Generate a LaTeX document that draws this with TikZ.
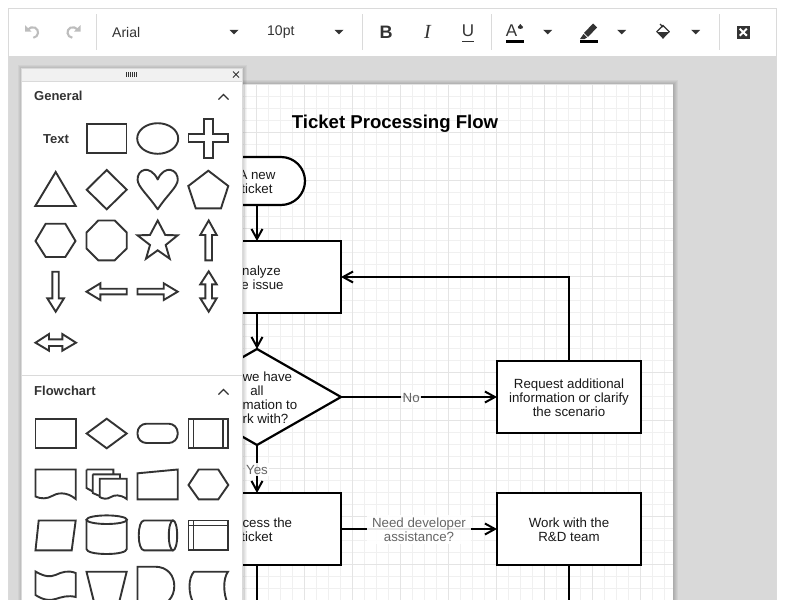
\documentclass[tikz,border=0pt]{standalone}
\usepackage{fontspec}
\setmainfont{Liberation Sans}
\usetikzlibrary{arrows.meta,shapes.geometric}
\definecolor{canvasgray}{HTML}{D9D9D9}
\definecolor{barline}{HTML}{DADADA}
\definecolor{minorgrid}{HTML}{F0F0F0}
\definecolor{majorgrid}{HTML}{E4E4E4}
\definecolor{shapegray}{HTML}{333333}
\definecolor{labelgray}{HTML}{666666}
\definecolor{dimicon}{HTML}{BDBDBD}
\definecolor{headgray}{HTML}{F1F1F1}
\tikzset{
	flowtext/.style={font=\fontsize{13.3}{14}\selectfont,align=center,text=black!90,inner sep=0pt,yshift=-1pt},
	flowbox/.style={draw,line width=2.2pt,fill=white,outer sep=0pt,inner sep=0pt},
	terminalbox/.style={flowbox,rounded corners=24pt,minimum width=96pt,minimum height=48pt},
	processbox/.style={flowbox,minimum width=168pt,minimum height=72pt},
	sidebox/.style={flowbox,minimum width=144pt,minimum height=72pt},
	decisionbox/.style={flowbox,diamond,aspect=1.75,minimum width=168pt,minimum height=96pt},
	flowline/.style={line width=2.2pt,-{Straight Barb[length=10pt,width=11pt,line width=2pt]}},
	plainline/.style={line width=2.2pt},
	edgelabel/.style={font=\fontsize{13.3}{14}\selectfont,align=center,text=labelgray,fill=white,fill opacity=.9,text opacity=1,inner sep=1.5pt,yshift=-.6pt},
	palette/.style={draw=shapegray,line width=1.9pt,line join=miter},
	toolfont/.style={font=\fontsize{14}{14}\selectfont,text=shapegray,inner sep=0pt},
	sidehead/.style={font=\fontsize{13}{14}\selectfont\bfseries,text=shapegray,inner sep=0pt,anchor=west},
	dropmark/.style={fill=shapegray,draw=none},
	chevron/.style={draw=shapegray,line width=1.3pt},
}
\newcommand{\dropat}[2]{\fill[dropmark] (#1-4.5,#2-2.2) -- (#1+4.5,#2-2.2) -- (#1,#2+2.3) -- cycle;}
\begin{document}
\begin{tikzpicture}[x=1pt,y=-1pt]
	\clip (0,0) rectangle (785,600);
	\fill[white] (0,0) rectangle (785,600);
	%canvas and toolbar
	\fill[canvasgray] (9,56) rectangle (776.5,600);
	\draw[barline,line width=1pt] (8.5,8.5) rectangle (776.5,610);
	\draw[barline,line width=.8pt] (96.5,14) -- (96.5,50);
	\draw[barline,line width=.8pt] (362.5,14) -- (362.5,50);
	\draw[barline,line width=.8pt] (491.5,14) -- (491.5,50);
	\draw[barline,line width=.8pt] (719.5,14) -- (719.5,50);

	%page shadow
	\foreach \s in {1,2,...,5}{
		\fill[black,opacity=.045] (112.5-\s,84.5-\s) rectangle (672.5+\s,620);
	}
	\fill[white] (112.5,84.5) rectangle (672.5,620);
	\foreach \x in {0,1,...,46}{
		\draw[minorgrid,line width=.8pt] (112.5+12*\x,84.5) -- (112.5+12*\x,620);
	}
	\foreach \y in {0,1,...,44}{
		\draw[minorgrid,line width=.8pt] (112.5,84.5+12*\y) -- (672.5,84.5+12*\y);
	}
	\foreach \x in {0,1,...,11}{
		\draw[majorgrid,line width=.8pt] (112.5+48*\x,84.5) -- (112.5+48*\x,620);
	}
	\foreach \y in {0,1,...,11}{
		\draw[majorgrid,line width=.8pt] (112.5,84.5+48*\y) -- (672.5,84.5+48*\y);
	}

	%flow
	\node[font=\fontsize{18.6}{22}\selectfont\bfseries,inner sep=0pt] (title) at (395,123.5) {Ticket Processing Flow};
	\node[terminalbox,label={[flowtext]center:{A new\\ticket}}] (newticket) at (257,181) {};
	\node[processbox,label={[flowtext]center:{Analyze\\the issue}}] (analyze) at (257,277) {};
	\node[decisionbox,label={[flowtext]center:{Do we have\\all\\information to\\work with?}}] (haveinfo) at (257,397) {};
	\node[processbox,label={[flowtext]center:{Process the\\ticket}}] (process) at (257,529) {};
	\node[sidebox,label={[flowtext]center:{Request additional\\information or clarify\\the scenario}}] (request) at (569,397) {};
	\node[sidebox,label={[flowtext]center:{Work with the\\R\&D team}}] (rnd) at (569,529) {};
	\coordinate (processout) at (257,612);
	\coordinate (rndout) at (569,612);

	\draw[flowline] (newticket) -- (analyze);
	\draw[flowline] (analyze) -- (haveinfo);
	\draw[flowline] (haveinfo.east) -- node[edgelabel,pos=.45] (nolabel) {No} (request.west);
	\draw[flowline] (haveinfo.south) -- node[edgelabel] (yeslabel) {Yes} (process.north);
	\draw[flowline] (process.east) -- node[edgelabel,inner xsep=5pt,inner ysep=3pt] (devlabel) {Need developer\\assistance?} (rnd.west);
	\draw[flowline] (request.north) |- (analyze.east);
	\draw[plainline] (process.south) -- (processout);
	\draw[plainline] (rnd.south) -- (rndout);

	%shape panel
	\foreach \s in {1,2,...,4}{
		\fill[black,opacity=.04] (21.5-\s,68.5-\s) rectangle (242.5+\s,620);
	}
	\fill[white] (21.5,68.5) rectangle (242.5,620);
	\fill[headgray] (21.5,68.5) rectangle (242.5,81);
	\draw[barline,line width=.9pt] (21.5,68.5) rectangle (242.5,620);
	\draw[barline,line width=.9pt] (21.5,81.5) -- (242.5,81.5);
	\draw[barline,line width=.9pt] (21.5,375.5) -- (242.5,375.5);
	\foreach \x in {126.5,128.5,...,136.5}{
		\draw[shapegray,line width=.7pt] (\x,72) -- (\x,77);
	}
	\draw[shapegray,line width=.9pt] (233,71.5) -- (239,77.5) (239,71.5) -- (233,77.5);
	\node[sidehead] (generalhead) at (34,95.5) {General};
	\draw[chevron] (218.5,99.5) -- (223.5,94.5) -- (228.5,99.5);
	\node[sidehead] (flowhead) at (34,390.5) {Flowchart};
	\draw[chevron] (218.5,394.5) -- (223.5,389.5) -- (228.5,394.5);

	%general shapes
	\node[font=\fontsize{13}{14}\selectfont\bfseries,text=shapegray,inner sep=0pt] (textitem) at (56,139.5) {Text};
	\draw[palette] (87,124) rectangle (126.5,153);
	\draw[palette] (157.7,138.5) ellipse [x radius=20.5,y radius=15.3];
	\draw[palette] (204.3,118.7) -- (212.7,118.7) -- (212.7,134.3) -- (228.3,134.3) -- (228.3,142.3) -- (212.7,142.3) -- (212.7,158.3) -- (204.3,158.3) -- (204.3,142.3) -- (188.5,142.3) -- (188.5,134.3) -- (204.3,134.3) -- cycle;
	\draw[palette] (55.7,172) -- (75.7,206) -- (35.3,206) -- cycle;
	\draw[palette] (106.7,170) -- (126.7,189.7) -- (106.7,209.3) -- (86.7,189.7) -- cycle;
	\draw[palette,line join=round] (157.7,179.5) .. controls (154,171.5) and (148,169.3) .. (145,169.8) .. controls (140,170.5) and (137.3,175) .. (137.6,180) .. controls (138,187) and (148,195) .. (157.7,209.3) .. controls (167,195) and (177.4,187) .. (177.8,180) .. controls (178,175) and (175,170.5) .. (170,169.8) .. controls (167,169.3) and (161,171.5) .. (157.7,179.5) -- cycle;
	\draw[palette] (208.3,170.7) -- (228.3,186) -- (221,208.3) -- (195.7,208.3) -- (188.3,186) -- cycle;
	\draw[palette] (35.5,241) -- (45.7,223.7) -- (65.3,223.7) -- (75.5,241) -- (65.3,257) -- (45.7,257) -- cycle;
	\draw[palette] (98.3,220.5) -- (114.7,220.5) -- (126.7,232.5) -- (126.7,248.5) -- (114.7,260.3) -- (98.3,260.3) -- (86.5,248.5) -- (86.5,232.5) -- cycle;
	\draw[palette] (157.7,220.5) -- (165.3,235) -- (177.7,235.3) -- (165.7,245) -- (169.7,258.7) -- (157.7,250.3) -- (146,258.7) -- (150,245) -- (137.5,235.3) -- (150,235) -- cycle;
	\draw[palette] (208.7,220.5) -- (216.7,235) -- (212,235) -- (212,260.3) -- (205.3,260.3) -- (205.3,235) -- (200.3,235) -- cycle;
	\draw[palette] (52.3,271.7) -- (58.7,271.7) -- (58.7,298.3) -- (64,298.3) -- (55.7,311.7) -- (47.3,298.3) -- (52.3,298.3) -- cycle;
	\draw[palette] (86.5,291.7) -- (100.3,283.3) -- (100.3,288.7) -- (126.7,288.7) -- (126.7,294.3) -- (100.3,294.3) -- (100.3,300) -- cycle;
	\draw[palette] (177.7,291.7) -- (163.7,283.3) -- (163.7,288.7) -- (137.5,288.7) -- (137.5,294.3) -- (163.7,294.3) -- (163.7,300) -- cycle;
	\draw[palette] (208.7,271.3) -- (216.7,284.3) -- (212,284.3) -- (212,298.3) -- (216.7,298.3) -- (208.7,311.7) -- (200.3,298.3) -- (205.3,298.3) -- (205.3,284.3) -- (200.3,284.3) -- cycle;
	\draw[palette] (35.5,342.7) -- (49,334) -- (49,339.3) -- (62.3,339.3) -- (62.3,334) -- (76,342.7) -- (62.3,350.7) -- (62.3,346) -- (49,346) -- (49,350.7) -- cycle;

	%flowchart shapes
	\draw[palette] (35.5,418.7) rectangle (75.7,448.3);
	\draw[palette] (106.7,418.7) -- (126.7,433.5) -- (106.7,448.3) -- (86.7,433.5) -- cycle;
	\draw[palette,rounded corners=9pt] (137.5,423.7) rectangle (177.7,443);
	\draw[palette] (188.5,418.7) rectangle (228.3,448.3) (193.5,418.7) -- (193.5,448.3) (223.3,418.7) -- (223.3,448.3);
	\draw[palette] (35.5,469.5) -- (75.7,469.5) -- (75.7,499) .. controls (66,491) and (57,493) .. (52,496) .. controls (47,499) and (41,499) .. (35.5,496.5) -- cycle;
	\draw[palette] (86.5,469.5) -- (113.3,469.5) -- (113.3,474.3) (86.5,469.5) -- (86.5,488) -- (92.7,491.5) (92.7,474.3) -- (120,474.3) -- (120,478.7) (92.7,474.3) -- (92.7,493) -- (99.7,496);
	\draw[palette] (99.7,478.7) -- (126.7,478.7) -- (126.7,499) .. controls (120,494) and (114,495) .. (111,497) .. controls (107,499.5) and (103,499) .. (99.7,497) -- cycle;
	\draw[palette] (137.5,473.3) -- (177.7,469.5) -- (177.7,499.3) -- (137.5,499.3) -- cycle;
	\draw[palette] (188.5,485) -- (198.7,469.5) -- (218.3,469.5) -- (228.3,485) -- (218.3,499.3) -- (198.7,499.3) -- cycle;
	\draw[palette] (38.7,520.5) -- (75.7,520.5) -- (71.7,550.3) -- (35.5,550.3) -- cycle;
	\draw[palette] (86.5,520) -- (86.5,549) .. controls (86.5,552) and (95,554) .. (106.7,554) .. controls (118,554) and (126.7,552) .. (126.7,549) -- (126.7,520);
	\draw[palette] (106.7,519.7) ellipse [x radius=20.2,y radius=4.3];
	\draw[palette] (173,520.5) -- (144,520.5) .. controls (137,520.5) and (137,550.3) .. (144,550.3) -- (173,550.3);
	\draw[palette] (173,535.4) ellipse [x radius=4.2,y radius=15];
	\draw[palette] (188.5,520.5) rectangle (228.3,550.3) (193.5,520.5) -- (193.5,550.3) (188.5,525.5) -- (228.3,525.5);
	\draw[palette] (35.5,571.5) .. controls (45,577) and (50,577) .. (55.5,575) .. controls (62,572) and (68,570) .. (75.7,573) -- (75.7,597) .. controls (68,595) and (62,597) .. (55.5,599) .. controls (50,601) and (43,600) .. (35.5,595) -- cycle;
	\draw[palette] (86.5,571.7) -- (126.7,571.7) -- (116.7,612) -- (96.5,612) -- cycle;
	\draw[palette] (137.5,566.7) -- (155,566.7) .. controls (167,566.7) and (174.3,575) .. (174.3,586) .. controls (174.3,597) and (167,606) .. (155,606) -- (137.5,606) -- cycle;
	\draw[palette] (194,571.7) -- (228,571.7) .. controls (223,578) and (223,594) .. (228,604) -- (194,604) .. controls (188,594) and (188,578) .. (194,571.7) -- cycle;

	%toolbar items
	\draw[dimicon,line width=2.1pt] (33.3,37.8) .. controls (39,37) and (39.5,29.5) .. (35,27.7) .. controls (32,26.5) and (30,27.5) .. (28,29.5);
	\fill[dimicon] (25,25) -- (25,31.5) -- (31.5,31.5) -- cycle;
	\draw[dimicon,line width=2.1pt] (72.3,37.8) .. controls (66.6,37) and (66,29.5) .. (70.5,27.7) .. controls (73.5,26.5) and (75.5,27.5) .. (77.5,29.5);
	\fill[dimicon] (80.5,25) -- (80.5,31.5) -- (74,31.5) -- cycle;
	\node[toolfont,anchor=west] (fontname) at (112,32) {Arial};
	\dropat{234}{32}
	\node[toolfont,anchor=west] (fontsize) at (267,32) {10pt};
	\dropat{339}{32}
	\node[font=\fontsize{18}{20}\selectfont\bfseries,text=shapegray,inner sep=0pt] (boldmark) at (386,32) {B};
	\node[font=\fontsize{20}{20}\selectfont,text=shapegray,inner sep=0pt] (italicmark) at (427.5,32) {\fontspec{Liberation Serif}\itshape I};
	\node[font=\fontsize{17}{20}\selectfont,text=shapegray,inner sep=0pt] (underlinemark) at (468,31) {U};
	\draw[shapegray,line width=1pt] (462,41) -- (474,41);
	\node[font=\fontsize{17}{20}\selectfont,text=shapegray,inner sep=0pt] (colormark) at (511.5,30.5) {A};
	\fill[shapegray] (520.3,24) -- (523,27) .. controls (523.8,29.5) and (517,29.5) .. (517.8,27) -- cycle;
	\fill[black] (506,40) rectangle (524,43);
	\dropat{547.7}{32}
	\fill[shapegray] (593,23.5) -- (597,27.5) -- (588,37) -- (584,33) -- cycle;
	\fill[shapegray] (583.5,34) -- (587,37.5) -- (584.5,39) -- (580,39) -- cycle;
	\fill[black] (580,40) rectangle (598,43);
	\dropat{621.7}{32}
	\fill[shapegray] (656.5,32) -- (669.5,32) -- (663,38.8) -- cycle;
	\draw[shapegray,line width=1.1pt] (656.5,32) -- (663,25.5) -- (669.5,32) (660,24) -- (663,27);
	\dropat{695.7}{32}
	\fill[shapegray] (736.5,25.7) rectangle (750,38.7);
	\draw[white,line width=2pt] (739.7,28.7) -- (746.8,35.7) (746.8,28.7) -- (739.7,35.7);
\end{tikzpicture}
\end{document}
